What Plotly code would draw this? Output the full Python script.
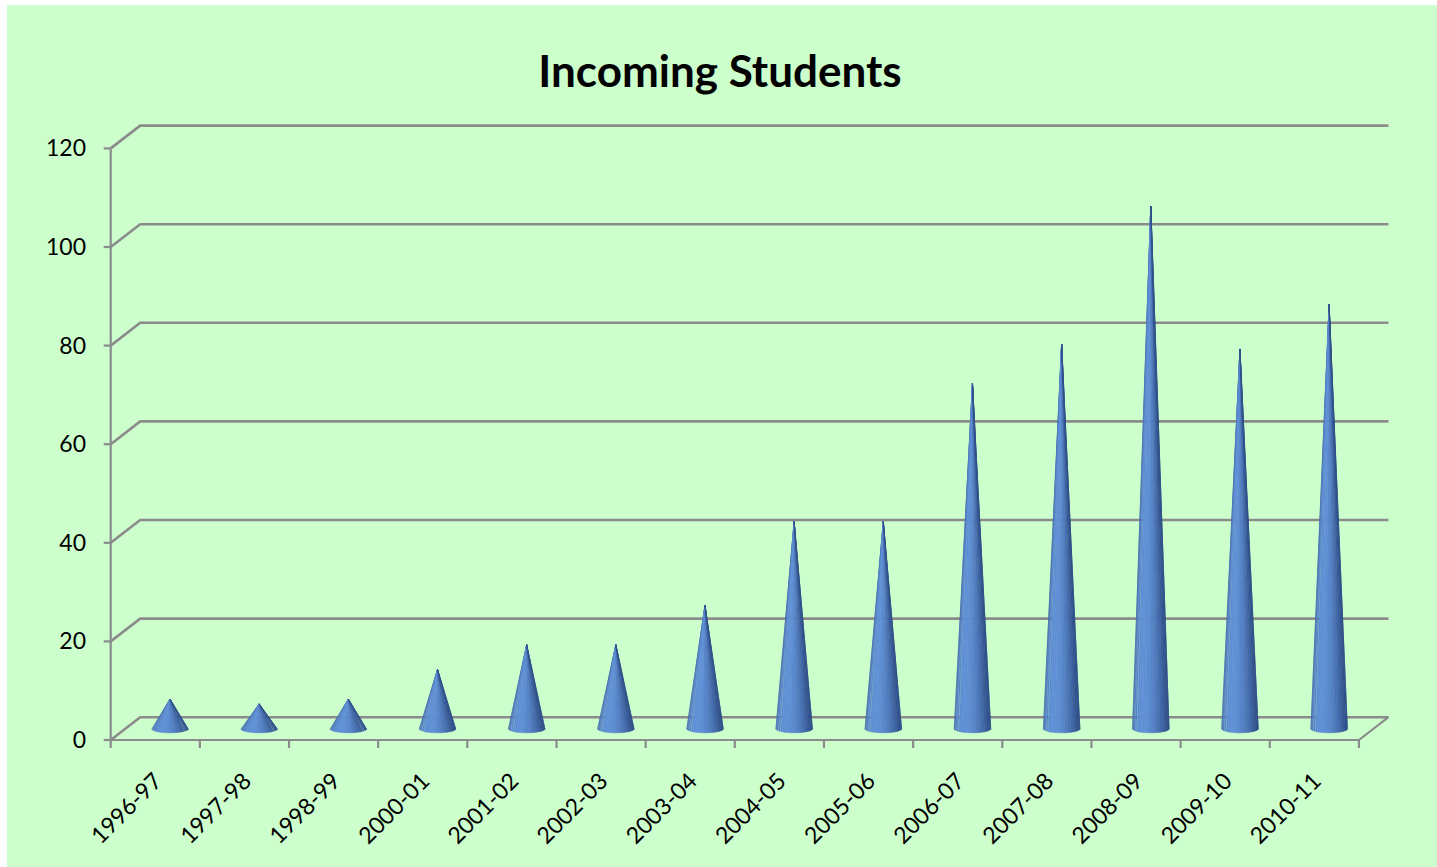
import numpy as np
import plotly.graph_objects as go

# ---- data -------------------------------------------------------------
years = ["1996-97", "1997-98", "1998-99", "2000-01", "2001-02", "2002-03", "2003-04",
         "2004-05", "2005-06", "2006-07", "2007-08", "2008-09", "2009-10", "2010-11"]
students = [6, 5, 6, 12, 17, 17, 25, 42, 42, 70, 78, 106, 77, 86]
y_ticks = [0, 20, 40, 60, 80, 100, 120]

# ---- page / pseudo-3D geometry (pixels) -------------------------------
W, H = 1437, 867
X0_PX = 110.7      # left edge of the front floor
CAT_PX = 89.16     # width of one category on the front plane
Y0_PX = 740.0      # front floor line (value 0)
UNIT_PX = 4.93     # pixels per student
DEPTH_X_PX, DEPTH_Y_PX = 29.5, 22.8   # offset from front plane to back wall

PLOT_L, PLOT_R = 100, 1400
PLOT_T, PLOT_B = 100, 752


def px_to_x(px):
    return -0.5 + (px - X0_PX) / CAT_PX


def py_to_y(py):
    return (Y0_PX - py) / UNIT_PX


n = len(years)
dx = DEPTH_X_PX / CAT_PX
dy = DEPTH_Y_PX / UNIT_PX
ymax = max(y_ticks)

fig = go.Figure()

# ---- back wall gridlines with their depth slant -----------------------
gx, gy = [], []
for v in y_ticks:
    gx += [-0.5, -0.5 + dx, n - 0.5 + dx, None]
    gy += [v, v + dy, v + dy, None]
fig.add_trace(go.Scatter(x=gx, y=gy, mode="lines",
                         line=dict(color="#8b8b8b", width=2.6),
                         hoverinfo="skip"))

# ---- front axis lines, floor edge and tick marks ----------------------
ax_x, ax_y = [], []
ax_x += [-0.5, -0.5, None]
ax_y += [0, ymax, None]
ax_x += [-0.5, n - 0.5, n - 0.5 + dx, None]
ax_y += [0, 0, dy, None]
ytick_len = 7 / CAT_PX
for v in y_ticks:
    ax_x += [-0.5 - ytick_len, -0.5, None]
    ax_y += [v, v, None]
xtick_len = 8 / UNIT_PX
for k in range(n + 1):
    ax_x += [k - 0.5, k - 0.5, None]
    ax_y += [0, -xtick_len, None]
fig.add_trace(go.Scatter(x=ax_x, y=ax_y, mode="lines",
                         line=dict(color="#8b8b8b", width=2.2),
                         hoverinfo="skip"))

# ---- shaded cones, one trace per shading band --------------------------
NS = 18
rx = 18.5 / CAT_PX
ry = 4.2 / UNIT_PX
phis = np.linspace(-90, 90, NS + 1)
dark = np.array([34, 62, 118])
light = np.array([96, 144, 214])
light_dir = -25.0

for k in range(NS):
    mid = 0.5 * (phis[k] + phis[k + 1])
    lam = max(0.0, np.cos(np.radians(mid - light_dir)))
    inten = 0.22 + 0.78 * lam ** 1.3
    rgb = dark + (light - dark) * inten
    col = "rgb(%d,%d,%d)" % tuple(np.round(rgb).astype(int))
    arc = np.radians(np.linspace(phis[k], phis[k + 1], 4))
    cx_all, cy_all = [], []
    for i, v in enumerate(students):
        cx = i + dx / 2
        base = dy / 2
        cx_all += [cx]
        cy_all += [v + dy / 2]
        cx_all += list(cx + rx * np.sin(arc))
        cy_all += list(base - ry * np.cos(arc))
        cx_all += [cx, None]
        cy_all += [v + dy / 2, None]
    fig.add_trace(go.Scatter(x=cx_all, y=cy_all, mode="lines", fill="toself",
                             fillcolor=col, line=dict(color=col, width=0.6),
                             hoverinfo="skip"))

# ---- layout -------------------------------------------------------------
font_family = "Lato, 'Open Sans', sans-serif"
fig.update_layout(
    width=W, height=H,
    margin=dict(l=PLOT_L, r=W - PLOT_R, t=PLOT_T, b=H - PLOT_B, pad=0),
    paper_bgcolor="#ccffcc",
    plot_bgcolor="rgba(0,0,0,0)",
    showlegend=False,
    title=dict(text="<b>Incoming Students</b>", xref="container", yref="container",
               x=720 / W, xanchor="center", y=1 - 72 / H, yanchor="middle",
               font=dict(family=font_family, size=44, color="black")),
    xaxis=dict(range=[px_to_x(PLOT_L), px_to_x(PLOT_R)], showgrid=False,
               zeroline=False, showline=False, ticks="",
               tickmode="array", tickvals=list(range(n)), ticktext=years,
               tickangle=-45, ticklabelstandoff=10,
               tickfont=dict(family=font_family, size=23, color="black")),
    yaxis=dict(range=[py_to_y(PLOT_B), py_to_y(PLOT_T)], showgrid=False,
               zeroline=False, showline=False, ticks="",
               tickmode="array", tickvals=y_ticks, ticktext=[str(v) for v in y_ticks],
               ticklabelstandoff=13,
               tickfont=dict(family=font_family, size=23, color="black")),
    shapes=[
        # white page edge along the top and the left
        dict(type="rect", xref="paper", yref="paper", layer="above",
             x0=(0 - PLOT_L) / (PLOT_R - PLOT_L), x1=(7 - PLOT_L) / (PLOT_R - PLOT_L),
             y0=(PLOT_B - H) / (PLOT_B - PLOT_T), y1=PLOT_B / (PLOT_B - PLOT_T),
             fillcolor="white", line=dict(width=0)),
        dict(type="rect", xref="paper", yref="paper", layer="above",
             x0=(0 - PLOT_L) / (PLOT_R - PLOT_L), x1=(W - PLOT_L) / (PLOT_R - PLOT_L),
             y0=(PLOT_B - 5) / (PLOT_B - PLOT_T), y1=PLOT_B / (PLOT_B - PLOT_T),
             fillcolor="white", line=dict(width=0)),
    ],
)

fig.write_html("out.html")
